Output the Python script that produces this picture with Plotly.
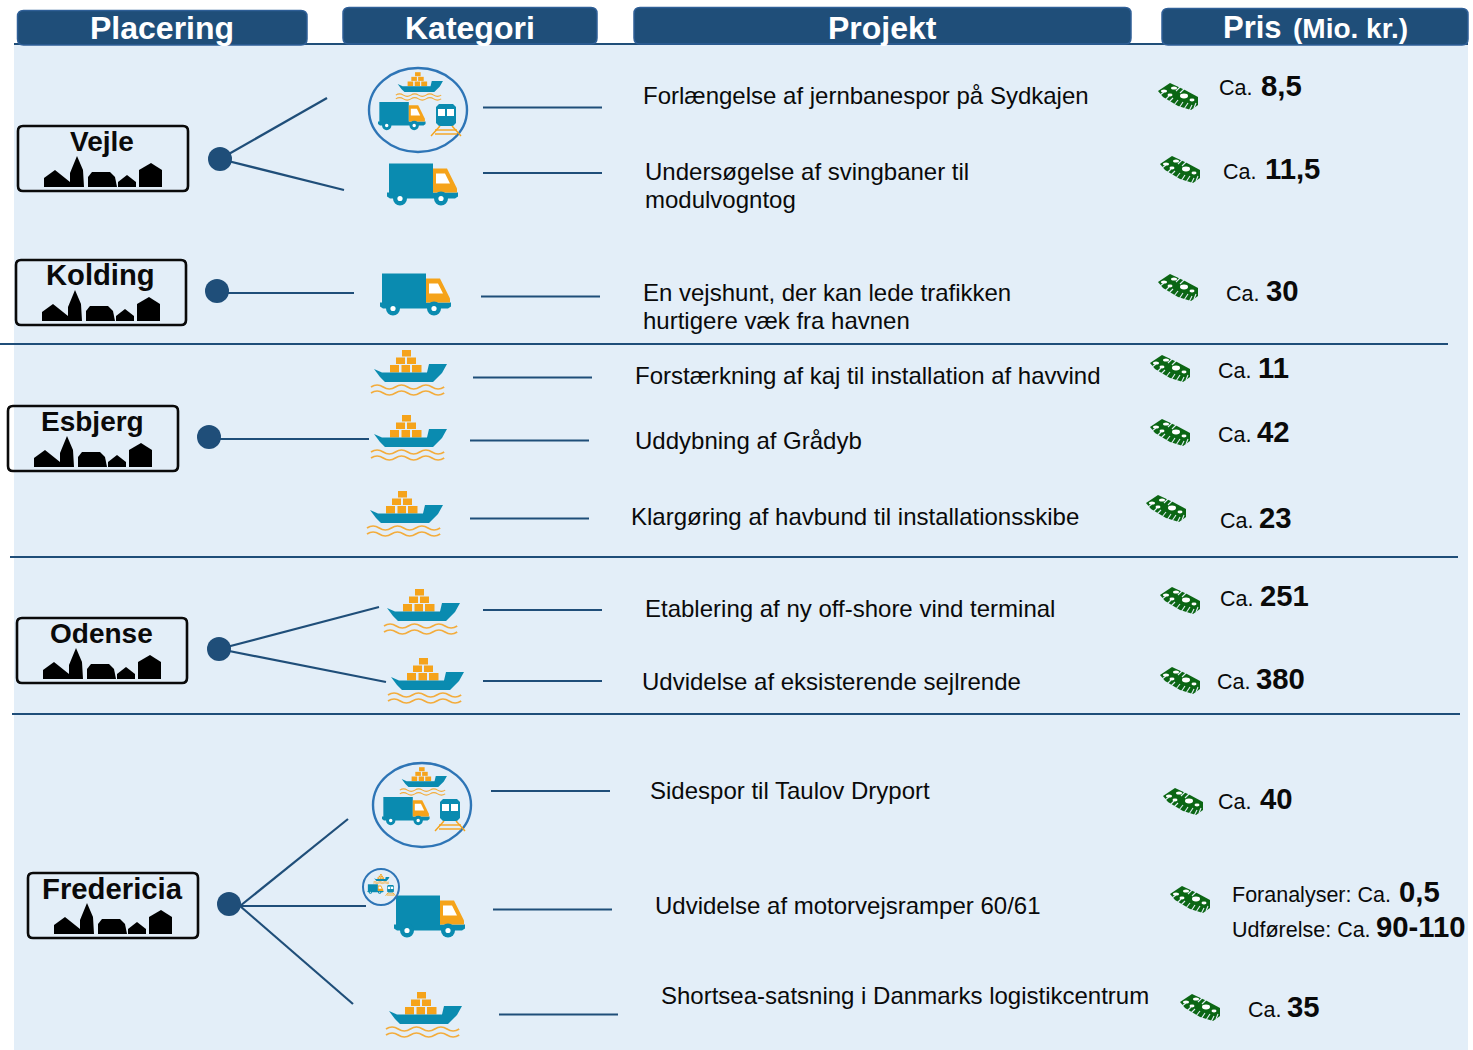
import plotly.graph_objects as go

# ---------- content ----------
headers = ["Placering", "Kategori", "Projekt", "Pris"]
header_unit = "(Mio. kr.)"
cities = ["Vejle", "Kolding", "Esbjerg", "Odense", "Fredericia"]
projects = [
    "Forlængelse af jernbanespor på Sydkajen",
    "Undersøgelse af svingbaner til\nmodulvogntog",
    "En vejshunt, der kan lede trafikken\nhurtigere væk fra havnen",
    "Forstærkning af kaj til installation af havvind",
    "Uddybning af Grådyb",
    "Klargøring af havbund til installationsskibe",
    "Etablering af ny off-shore vind terminal",
    "Udvidelse af eksisterende sejlrende",
    "Sidespor til Taulov Dryport",
    "Udvidelse af motorvejsramper 60/61",
    "Shortsea-satsning i Danmarks logistikcentrum",
]
price_prefix = ["Ca."] * 9 + ["Foranalyser: Ca.", "Udførelse: Ca.", "Ca."]
price_values = ["8,5", "11,5", "30", "11", "42", "23", "251", "380", "40", "0,5", "90-110", "35"]

# ---------- layout (pixel canvas) ----------
NAVY = "#1F4E79"
BG = "#E3EEF8"
TEAL = "#0A8BB0"
ORANGE = "#F5A31A"
GREEN = "#0B6614"

header_boxes = [(17.5, 10.5, 307, 45), (343, 7.5, 597, 44), (634, 7.5, 1131, 44), (1162, 8.5, 1468, 45)]
header_text_x = [162, 470, 882]
sign_xy = [(17, 125), (15, 259), (7, 405), (16, 617), (27, 872)]
sign_font = [28, 29.2, 28, 28, 29.3]
dots_x = [220, 217, 209, 219, 229]
dots_y = [159, 291, 437, 649, 904]
branch_from = [(220, 159), (217, 293), (209, 439), (219, 649), (240, 906)]
branches = [
    [(327, 98), (344, 190)], [(354, 293)], [(369, 439)],
    [(379, 607), (386, 682)], [(348, 819), (366, 906), (353, 1004)],
]
row_lines = [(483, 602, 107.5), (483, 602, 173), (481, 600, 296.5), (473, 592, 377.5), (470, 589, 440.5),
             (470, 589, 518.5), (483, 602, 610), (483, 602, 681), (491, 610, 791), (493, 612, 909.5),
             (499, 618, 1014.5)]
separators = [(0, 1448, 344), (10, 1458, 557), (12, 1460, 714)]
project_xy = [(642, 95), (644, 171), (642, 292), (634, 375), (634, 440), (630, 516),
              (644, 608), (641, 681), (649, 790), (654, 905), (660, 995)]
prefix_xy = [(1218, 88), (1222, 171.5), (1225, 293.5), (1217, 370.5), (1217, 434.5), (1219, 520.5),
             (1219, 598.5), (1216, 681.5), (1217, 801.5), (1231, 894.5), (1231, 929.5), (1247, 1009.5)]
value_xy = [(1260, 85), (1264, 168), (1265, 290), (1257, 367), (1256, 431), (1258, 517),
            (1259, 595), (1255, 678), (1259, 798), (1398, 891), (1375, 926), (1286, 1006)]
money_xy = [(1158, 82), (1160, 155), (1158, 273), (1150, 354), (1150, 418), (1146, 494),
            (1160, 586), (1160, 666), (1163, 787), (1170, 885), (1180, 993)]
ship_xy = [(360, 340), (360, 405), (356, 481), (373, 579), (377, 648), (375, 982)]
truck_xy = [(387, 163.5), (380, 273.5), (394, 895.5)]
group_c = [(418, 110, 49, 42, 1.0), (422, 805, 49, 42, 1.0), (381, 887, 18, 18, 0.34)]

shapes = []


def poly(pts, ox=0, oy=0, s=1, fill=None, line=None, lw=0):
    d = "M" + " L".join(f"{ox + x * s:.2f},{oy + y * s:.2f}" for x, y in pts) + " Z"
    shapes.append(dict(type="path", path=d, fillcolor=fill or "rgba(0,0,0,0)",
                       line=dict(color=line or "rgba(0,0,0,0)", width=lw)))


def rect(x0, y0, x1, y1, ox=0, oy=0, s=1, fill=None):
    shapes.append(dict(type="rect", x0=ox + x0 * s, y0=oy + y0 * s, x1=ox + x1 * s, y1=oy + y1 * s,
                       fillcolor=fill, line=dict(width=0)))


def ellipse(cx, cy, rx, ry, fill="rgba(0,0,0,0)", line="rgba(0,0,0,0)", lw=0):
    shapes.append(dict(type="circle", x0=cx - rx, x1=cx + rx, y0=cy - ry, y1=cy + ry,
                       fillcolor=fill, line=dict(color=line, width=lw)))


def seg(x0, y0, x1, y1, color=NAVY, lw=2):
    shapes.append(dict(type="line", x0=x0, y0=y0, x1=x1, y1=y1, line=dict(color=color, width=lw)))


def rrect(x0, y0, x1, y1, r, fill, line, lw):
    d = (f"M{x0 + r},{y0} L{x1 - r},{y0} Q{x1},{y0} {x1},{y0 + r} L{x1},{y1 - r} Q{x1},{y1} {x1 - r},{y1} "
         f"L{x0 + r},{y1} Q{x0},{y1} {x0},{y1 - r} L{x0},{y0 + r} Q{x0},{y0} {x0 + r},{y0} Z")
    shapes.append(dict(type="path", path=d, fillcolor=fill, line=dict(color=line, width=lw)))


def truck(ox, oy, s=1):
    rect(2, 0, 46, 30, ox, oy, s, TEAL)
    poly([(0, 29), (71, 29), (71, 33), (68, 35), (3, 35), (0, 33)], ox, oy, s, TEAL)
    poly([(46, 5), (60, 5), (70, 25), (70, 29), (46, 29)], ox, oy, s, ORANGE)
    poly([(49, 10), (58, 10), (63, 20), (49, 20)], ox, oy, s, "#FFFFFF")
    for wx in (13, 54):
        ellipse(ox + wx * s, oy + 35 * s, 7 * s, 7 * s, TEAL)
        ellipse(ox + wx * s, oy + 35 * s, 2.6 * s, 2.6 * s, "#FFFFFF")


def wave(ox, oy, s, y):
    x, step = ox + 11 * s, 12.2 * s
    yy = oy + y * s
    d = f"M{x:.2f},{yy:.2f}"
    up = True
    for _ in range(6):
        ctrl = yy - 4 * s if up else yy + 4 * s
        d += f" Q{x + step / 2:.2f},{ctrl:.2f} {x + step:.2f},{yy:.2f}"
        x += step
        up = not up
    shapes.append(dict(type="path", path=d, fillcolor="rgba(0,0,0,0)",
                       line=dict(color="#F3AC3C", width=max(0.8, 1.7 * s))))


def ship(ox, oy, s=1):
    for x0, x1, y0, y1 in [(30, 39, 25, 32.5), (41.5, 50, 25, 32.5), (52, 61.5, 25, 32.5),
                           (36, 45, 17.5, 24), (47, 56, 17.5, 24), (42, 51, 10, 16.5)]:
        rect(x0, y0, x1, y1, ox, oy, s, ORANGE)
    poly([(14, 29), (22, 32.5), (67, 32.5), (69, 24), (87, 24), (82, 33), (73, 42), (25, 42), (20, 37)],
         ox, oy, s, TEAL)
    wave(ox, oy, s, 47)
    wave(ox, oy, s, 53)


def train(ox, oy, s=1):
    poly([(4, 3), (18, 3), (21, 6), (21, 22), (18, 25), (4, 25), (1, 22), (1, 6)], ox, oy, s, TEAL)
    rect(3, 8, 19, 15, ox, oy, s, "#FFFFFF")
    rect(10, 8, 12, 15, ox, oy, s, TEAL)
    for y in (29, 33):
        seg(ox + 0 * s, oy + y * s, ox + 22 * s, oy + y * s, ORANGE, 1.4 * max(s, .5))
    seg(ox + 5 * s, oy + 25 * s, ox - 4 * s, oy + 35 * s, ORANGE, 1.4 * max(s, .5))
    seg(ox + 17 * s, oy + 25 * s, ox + 26 * s, oy + 35 * s, ORANGE, 1.4 * max(s, .5))


def mixed(cx, cy, rx, ry, k):
    ellipse(cx, cy, rx, ry, "rgba(0,0,0,0)", "#2E75B6", 2.4 if k == 1 else 2)
    ship(cx - 29 * k, cy - 44 * k, 0.62 * k)
    truck(cx - 40 * k, cy - 8 * k, 0.67 * k)
    train(cx + 17 * k, cy - 9 * k, 1.0 * k)


def money(ox, oy):
    poly([(0, 9), (12, 1), (27, 8), (40, 15), (40, 23), (33, 28), (20, 24), (5, 15)], ox, oy, 1, GREEN)
    for cx, cy, rx, ry in [(6, 9, 3, 1.6), (16, 6, 3, 1.6), (12, 13, 2.5, 1.4), (26, 14, 4, 2.4), (34, 18, 2.5, 1.4)]:
        ellipse(ox + cx, oy + cy, rx, ry, "#FFFFFF")
    for x0, y0, x1, y1 in [(2, 13, 6, 10), (7, 18, 11, 14), (11, 20, 15, 16), (16, 23, 20, 18),
                           (21, 26, 25, 20), (26, 27, 30, 21), (31, 29, 34, 23), (36, 26, 38, 21),
                           (18, 9, 22, 5), (22, 11, 26, 7)]:
        seg(ox + x0, oy + y0, ox + x1, oy + y1, BG, 1.1)


def sign(x, y):
    rrect(x + 1, y + 1, x + 171, y + 66, 5, "rgba(0,0,0,0)", "#0A0A0A", 2.6)
    poly([(27, 62), (27, 53), (38, 45), (48, 53), (53, 57), (53, 48), (60, 31), (66, 45), (67, 62)],
         x, y, 1, "#000000")
    poly([(71, 62), (71, 52), (75, 47), (93, 47), (98, 52), (100, 62)], x, y, 1, "#000000")
    poly([(101, 62), (101, 57), (110, 50), (119, 57), (119, 62)], x, y, 1, "#000000")
    poly([(122, 62), (122, 45), (134, 38), (145, 45), (145, 62)], x, y, 1, "#000000")


# background and frame
rect(14, 44, 1468, 1050, fill=BG)
seg(14, 44, 1468, 44, NAVY, 2)
for box in header_boxes:
    rrect(*box, 6, NAVY, "#2F5F97", 1.5)
for x0, x1, y in separators:
    seg(x0, y, x1, y, NAVY, 2.2)
for x0, x1, y in row_lines:
    seg(x0, y, x1, y, NAVY, 2.2)
for (fx, fy), br in zip(branch_from, branches):
    for bx, by in br:
        seg(fx, fy, bx, by, NAVY, 2.2)
for xy in sign_xy:
    sign(*xy)
for xy in ship_xy:
    ship(*xy)
for xy in truck_xy:
    truck(*xy)
for g in group_c:
    mixed(*g)
for xy in money_xy:
    money(*xy)

ann = []


def label(x, y, text, size, bold=False, color="#0A0A0A", anchor="left"):
    ann.append(dict(x=x, y=y, text=f"<b>{text}</b>" if bold else text, showarrow=False, xanchor=anchor,
                    yanchor="middle", borderpad=0,
                    font=dict(family="Liberation Sans, Arial, sans-serif", size=size, color=color)))


for tx, h in zip(header_text_x, headers):
    label(tx, 28, h, 32, True, "#FFFFFF", "center")
label(1222, 27, headers[3], 31, True, "#FFFFFF")
label(1292, 28, header_unit, 28, True, "#FFFFFF")
for (sx, sy), c, fs in zip(sign_xy, cities, sign_font):
    label(sx + 85, sy + 16, c, fs, True, anchor="center")
for (px, py), text in zip(project_xy, projects):
    for i, part in enumerate(text.split("\n")):
        label(px, py + i * 28.5, part, 24)
for (px, py), p in zip(prefix_xy, price_prefix):
    label(px, py, p, 21.5)
for (vx, vy), v in zip(value_xy, price_values):
    label(vx, vy, v, 29.3, True)

fig = go.Figure(go.Scatter(x=dots_x, y=dots_y, mode="markers", hoverinfo="skip",
                           marker=dict(size=24, color=NAVY, line=dict(width=0))))
fig.update_layout(
    width=1473, height=1050, margin=dict(l=0, r=0, t=0, b=0), showlegend=False,
    paper_bgcolor="#FFFFFF", plot_bgcolor="rgba(0,0,0,0)",
    xaxis=dict(range=[0, 1473], visible=False, fixedrange=True),
    yaxis=dict(range=[1050, 0], visible=False, fixedrange=True),
    shapes=[{**s, "layer": "below"} for s in shapes], annotations=ann,
)
fig.write_html("out.html", config=dict(displayModeBar=False),
               post_script="document.body.style.margin='0';")
